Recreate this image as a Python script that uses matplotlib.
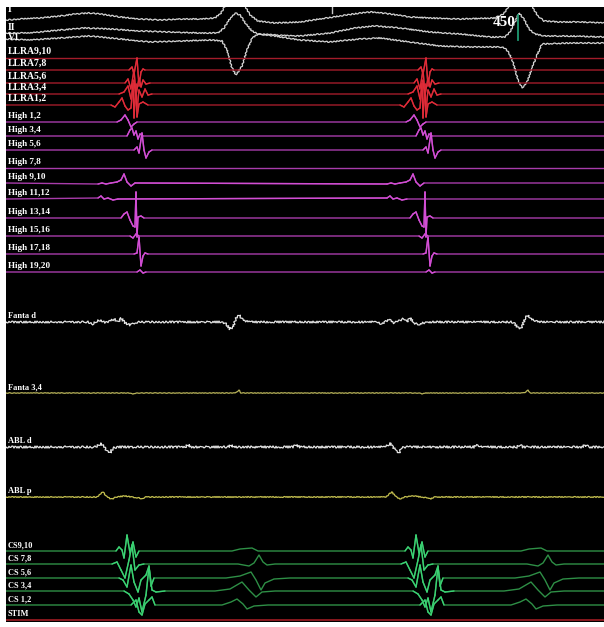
"""Intracardiac electrogram strip: surface ECG, LLRA / High / Fanta / ABL / CS channels.

Coordinates are read straight off the recording window (x, y in pixels of the 604x627 strip,
y growing downward). Intracardiac channels are stored as a flat baseline plus the deflection
read from the first beat; the second beat follows one cycle later.
"""
import matplotlib

matplotlib.use("Agg")  # headless
import matplotlib.pyplot as plt
from matplotlib.collections import LineCollection

W_PX, H_PX = 604, 627
WIN_LEFT, WIN_TOP, WIN_BOTTOM = 6, 7, 622   # black recording window inside the white frame
BEAT_SHIFT = [0, 289]                        # second beat, one cycle (450 ms) later
ATRIAL_SPAN = (90, 200)                      # first-beat x range of the near-field atrial activity

# ---- surface ECG (x px, y px) ----
LEAD_I_X = [6, 20, 40, 60, 75, 90, 100, 120, 140, 160, 180, 200, 215, 221, 225, 228, 241, 245,
            250, 258, 275, 300, 320, 340, 360, 372, 390, 410, 430, 460, 495, 503, 508, 511,
            529, 533, 538, 544, 560, 580, 604]
LEAD_I_Y = [20, 19, 18, 16, 14, 13, 14, 17, 19, 20, 19, 19, 18, 13, 6, -20, -20, 6,
            15, 21, 23, 22, 19, 16, 13, 12, 14, 17, 18, 19, 18, 14, 8, -20,
            -20, 8, 16, 21, 22, 22, 23]
LEAD_II_X = [6, 30, 60, 85, 110, 140, 170, 200, 218, 224, 229, 235, 240, 246, 252, 258, 275, 300,
             330, 355, 375, 400, 430, 460, 490, 505, 510, 515, 519, 524, 529, 535, 545, 570, 604]
LEAD_II_Y = [33, 33, 30, 28, 29, 31, 32, 33, 33, 28, 20, 13, 15, 24, 31, 34, 35, 36,
             33, 28, 26, 28, 32, 34, 37, 37, 32, 22, 13, 19, 29, 34, 36, 36, 37]
V1_X = [6, 30, 60, 90, 120, 150, 180, 210, 222, 227, 232, 236, 242, 247, 252, 258, 275, 300,
        330, 360, 380, 410, 440, 470, 500, 505, 509, 513, 518, 522, 527, 532, 537, 542, 570, 604]
V1_Y = [39, 40, 38, 36, 39, 42, 41, 40, 41, 50, 68, 75, 66, 50, 38, 34, 36, 40,
        42, 39, 38, 42, 46, 47, 47, 48, 53, 62, 80, 88, 82, 68, 55, 44, 43, 43]
ECG_NAMES = ["I", "II", "V1"]
ECG_LABEL_Y = [10, 28, 38]

# ---- intracardiac channels: baselines (y px) ----
LLRA_NAMES = ["LLRA9,10", "LLRA7,8", "LLRA5,6", "LLRA3,4", "LLRA1,2"]
LLRA_BASE = [58, 70, 83, 94, 105]
HIGH_NAMES = ["High 1,2", "High 3,4", "High 5,6", "High 7,8", "High 9,10",
              "High 11,12", "High 13,14", "High 15,16", "High 17,18", "High 19,20"]
HIGH_BASE = [122, 136, 150, 168, 183, 199, 218, 236, 254, 272]
MID_NAMES = ["Fanta d", "Fanta 3,4", "ABL d", "ABL p"]
MID_BASE = [322, 393, 447, 497]
CS_NAMES = ["CS9,10", "CS 7,8", "CS 5,6", "CS 3,4", "CS 1,2", "STIM"]
CS_BASE = [551, 564, 578, 591, 605, 620]

# ---- first-beat deflections: (x px, offset from baseline in px, + = down) ----
LLRA_9_10 = []
LLRA_7_8 = [(129, 0), (132, -3), (134, 4), (137, -12), (139, 16), (141, 2), (143, -1), (145, 0)]
LLRA_5_6 = [(125, 0), (128, -4), (131, 6), (134, -13), (136, 12), (139, -5), (141, 4), (143, -3),
            (146, 1), (150, 0)]
LLRA_3_4 = [(119, 0), (124, -2), (128, -8), (131, 5), (134, -14), (137, 16), (139, -4), (142, 3),
            (145, -5), (148, 1), (152, 0)]
LLRA_1_2 = [(111, 0), (115, 2), (119, -3), (122, -7), (125, 1), (128, 5), (131, 3), (133, -22),
            (134, 13), (136, -21), (137, 12), (139, -1), (143, -3), (148, 0)]

HIGH_1_2 = [(117, 0), (121, -2), (125, -7), (128, -2), (131, 5), (134, 2), (137, 0)]
HIGH_3_4 = [(127, 0), (130, -6), (132, -8), (134, -1), (136, -5), (138, 3), (140, -2), (143, 0)]
HIGH_5_6 = [(134, 0), (137, -3), (139, 3), (142, -17), (144, 0), (146, 8), (149, 2), (152, 0)]
HIGH_7_8 = []
HIGH_9_10 = [(98, 1), (102, 0), (106, 1), (111, 0), (117, -1), (121, -3), (124, -9), (127, -1),
             (131, 3), (135, 0)]
HIGH_11_12 = [(98, -1), (101, -3), (104, 0), (108, -1), (113, 1), (118, 0)]
HIGH_13_14 = [(121, 0), (124, -4), (127, -6), (130, 2), (133, 8), (135, 9), (136, -26), (137, 19),
              (138, -1), (141, -2), (144, 0)]
HIGH_15_16 = [(130, 0), (133, 2), (136, -2), (139, 0)]
HIGH_17_18 = [(134, 0), (137, -1), (139, -17), (141, 12), (143, 2), (145, -1), (148, 0)]
HIGH_19_20 = [(137, 0), (140, -2), (143, 1), (146, 0)]

FANTA_D = [(88, 0), (93, 2), (97, -1), (101, -2), (105, 1), (110, -1), (114, -3), (118, 0),
           (121, -4), (125, 1), (130, 3), (134, 1), (140, 0),
           (222, 0), (226, 2), (230, 7), (233, 5), (236, -4), (239, -7), (242, -3), (246, -1), (252, 0)]
FANTA_3_4 = [(130, 0), (133, 1), (136, 0), (234, 0), (237, -1), (239, -3), (241, 0)]
ABL_D = [(95, 0), (99, -2), (101, -4), (104, 0), (107, 4), (110, 6), (113, 1), (117, 0),
         (185, 0), (188, -2), (192, 0), (228, 0), (231, -2), (234, 0), (293, 0), (296, -2), (300, 0)]
ABL_P = [(97, 0), (100, -3), (103, -5), (106, -1), (109, 1), (112, 2), (116, 0), (125, -1),
         (132, 0), (139, 1), (142, 2), (145, 0)]

CS_9_10 = [(116, 0), (119, -4), (122, -1), (124, 7), (127, -16), (130, 2), (133, -9), (136, 6),
           (139, 0), (232, 0), (240, -2), (252, -3), (258, 0)]
CS_7_8 = [(112, 0), (117, -2), (121, 6), (125, 14), (129, -4), (132, -19), (135, 6), (139, 1),
          (144, 0), (238, 0), (249, 2), (254, -1), (259, -9), (263, -2), (267, 1), (275, 0)]
CS_5_6 = [(119, 0), (123, 2), (127, 9), (131, -13), (134, 4), (138, 14), (141, 2), (146, -3),
          (149, -12), (151, 8), (154, 0), (226, 0), (240, -2), (251, -6), (256, 2), (261, 12),
          (265, 5), (274, 1), (290, 0)]
CS_3_4 = [(124, 0), (129, 3), (133, 9), (136, 16), (139, 7), (142, 21), (146, 4), (149, -24),
          (152, -1), (156, 1), (165, 0), (215, 0), (230, -2), (242, -9), (249, -1), (256, 6),
          (262, 1), (275, 0)]
CS_1_2 = [(131, 0), (136, -5), (139, 7), (142, 10), (145, -1), (149, -5), (152, -8), (155, 0),
          (222, 0), (231, -3), (237, -6), (243, -1), (247, 4), (254, 1), (268, 0)]
STIM = []

LLRA_DEFL = [LLRA_9_10, LLRA_7_8, LLRA_5_6, LLRA_3_4, LLRA_1_2]
HIGH_DEFL = [HIGH_1_2, HIGH_3_4, HIGH_5_6, HIGH_7_8, HIGH_9_10,
             HIGH_11_12, HIGH_13_14, HIGH_15_16, HIGH_17_18, HIGH_19_20]
MID_DEFL = [FANTA_D, FANTA_3_4, ABL_D, ABL_P]
CS_DEFL = [CS_9_10, CS_7_8, CS_5_6, CS_3_4, CS_1_2, STIM]

CYCLE_LABEL = "450"
LABEL_FONT = {"family": "Liberation Serif", "weight": "bold", "color": "white"}


def build_trace(base, defl):
    """Flat baseline with the first-beat deflection repeated at each beat; also returns the
    first-beat x of every point (to tell near-field atrial activity from far-field)."""
    xs, ys, tx = [WIN_LEFT], [base], [WIN_LEFT]
    for s in BEAT_SHIFT:
        for x, dy in defl:
            xs.append(x + s)
            ys.append(base + dy)
            tx.append(x)
    xs.append(W_PX)
    ys.append(base)
    tx.append(W_PX)
    return xs, ys, tx


def draw_channel(ax, base, defl, color, hot=None, lw=1.0, sketch=None):
    xs, ys, tx = build_trace(base, defl)
    (line,) = ax.plot(xs, ys, color=color, lw=lw, solid_joinstyle="round")
    if sketch:
        line.set_sketch_params(*sketch)
    if hot:  # the sharp atrial signal shows brighter than the flat baseline
        lo, hi = ATRIAL_SPAN
        segs = [[(xs[i], ys[i]), (xs[i + 1], ys[i + 1])] for i in range(len(xs) - 1)
                if (ys[i] != base or ys[i + 1] != base) and lo <= tx[i] <= hi and lo <= tx[i + 1] <= hi]
        ax.add_collection(LineCollection(segs, colors=hot, linewidths=lw, capstyle="round"))


def label(ax, y, text, size):
    ax.text(WIN_LEFT + 2, y, text, fontsize=size, va="bottom", ha="left", fontdict=LABEL_FONT)


fig = plt.figure(figsize=(W_PX / 100, H_PX / 100), dpi=100, facecolor="white")
ax = fig.add_axes([WIN_LEFT / W_PX, (H_PX - WIN_BOTTOM) / H_PX,
                   1 - WIN_LEFT / W_PX, (WIN_BOTTOM - WIN_TOP) / H_PX])
ax.set_xlim(WIN_LEFT, W_PX)
ax.set_ylim(WIN_BOTTOM, WIN_TOP)
ax.axis("off")
ax.add_patch(plt.Rectangle((WIN_LEFT, WIN_TOP), W_PX - WIN_LEFT, WIN_BOTTOM - WIN_TOP,
                           color="black", zorder=-5))

# surface ECG
for xs, ys in [(LEAD_I_X, LEAD_I_Y), (LEAD_II_X, LEAD_II_Y), (V1_X, V1_Y)]:
    (ln,) = ax.plot(xs, ys, color="#d4d4d4", lw=0.9)
    ln.set_sketch_params(0.6, 4, 2)
for name, y in zip(ECG_NAMES, ECG_LABEL_Y):
    ax.text(WIN_LEFT + 2, y, name, fontsize=7, va="center", ha="left", fontdict=LABEL_FONT)
ax.plot([332, 332], [WIN_TOP, 13], color="#c8c8c8", lw=1.0)
ax.plot([518, 518], [15, 40], color="#1f9a72", lw=1.3)
ax.text(504, 23, CYCLE_LABEL, fontsize=11, va="center", ha="center", fontdict=LABEL_FONT)

# LLRA (red)
for name, base, defl in zip(LLRA_NAMES, LLRA_BASE, LLRA_DEFL):
    draw_channel(ax, base, defl, "#a31c2a", hot="#e02c38")
    label(ax, base - 2, name, 7)

# High (magenta)
for name, base, defl in zip(HIGH_NAMES, HIGH_BASE, HIGH_DEFL):
    draw_channel(ax, base, defl, "#a83caa", hot="#d24ed4")
    label(ax, base - 2, name, 6.6)

# Fanta / ABL
mid_colors = ["#e6e6e6", "#b9b45a", "#e6e6e6", "#c6c150"]
mid_sketch = [(1.0, 3, 2), (0.3, 4, 2), (1.1, 3, 2), (0.5, 3, 2)]
for name, base, defl, c, sk in zip(MID_NAMES, MID_BASE, MID_DEFL, mid_colors, mid_sketch):
    draw_channel(ax, base, defl, c, lw=0.9, sketch=sk)
    label(ax, base - 2, name, 6)

# CS (green) and STIM
for name, base, defl in zip(CS_NAMES, CS_BASE, CS_DEFL):
    if name == "STIM":
        draw_channel(ax, base, defl, "#a01c24", lw=1.2)
    else:
        draw_channel(ax, base, defl, "#2e8f46", hot="#3ad274")
    label(ax, base - 2, name, 6)

fig.savefig("out.png", dpi=100, facecolor="white")
